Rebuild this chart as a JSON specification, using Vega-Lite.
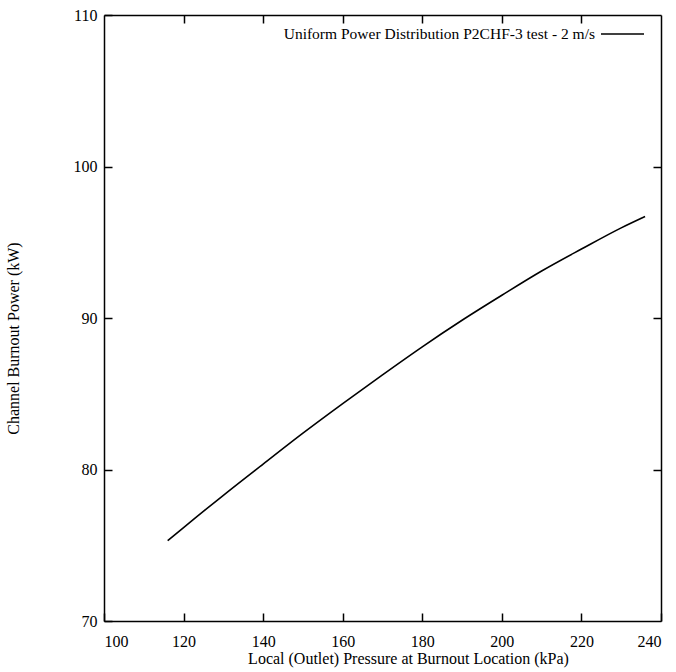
{
  "$schema": "https://vega.github.io/schema/vega-lite/v6.json",
  "autosize": {"type": "none"},
  "padding": {"left": 104, "top": 15, "right": 15, "bottom": 51},
  "width": 557,
  "height": 606,
  "background": "white",
  "config": {
    "view": {"stroke": null},
    "font": "Liberation Serif",
    "axis": {
      "domainColor": "black",
      "domainWidth": 1.5,
      "tickColor": "black",
      "tickWidth": 1.5,
      "tickSize": -8,
      "grid": false,
      "labelColor": "black",
      "titleColor": "black",
      "labelFont": "Liberation Serif",
      "titleFont": "Liberation Serif",
      "labelFontSize": 16,
      "titleFontSize": 16,
      "titleFontWeight": "normal"
    }
  },
  "data": {
    "values": [
      {"p": 116, "w": 75.3, "s": "Uniform Power Distribution P2CHF-3 test - 2 m/s"},
      {"p": 120, "w": 76.17, "s": "Uniform Power Distribution P2CHF-3 test - 2 m/s"},
      {"p": 130, "w": 78.3, "s": "Uniform Power Distribution P2CHF-3 test - 2 m/s"},
      {"p": 140, "w": 80.36, "s": "Uniform Power Distribution P2CHF-3 test - 2 m/s"},
      {"p": 150, "w": 82.4, "s": "Uniform Power Distribution P2CHF-3 test - 2 m/s"},
      {"p": 160, "w": 84.35, "s": "Uniform Power Distribution P2CHF-3 test - 2 m/s"},
      {"p": 170, "w": 86.25, "s": "Uniform Power Distribution P2CHF-3 test - 2 m/s"},
      {"p": 180, "w": 88.1, "s": "Uniform Power Distribution P2CHF-3 test - 2 m/s"},
      {"p": 190, "w": 89.85, "s": "Uniform Power Distribution P2CHF-3 test - 2 m/s"},
      {"p": 200, "w": 91.5, "s": "Uniform Power Distribution P2CHF-3 test - 2 m/s"},
      {"p": 210, "w": 93.1, "s": "Uniform Power Distribution P2CHF-3 test - 2 m/s"},
      {"p": 220, "w": 94.55, "s": "Uniform Power Distribution P2CHF-3 test - 2 m/s"},
      {"p": 230, "w": 95.95, "s": "Uniform Power Distribution P2CHF-3 test - 2 m/s"},
      {"p": 236, "w": 96.7, "s": "Uniform Power Distribution P2CHF-3 test - 2 m/s"}
    ]
  },
  "layer": [
    {
      "mark": {"type": "line", "strokeWidth": 1.6, "interpolate": "monotone"},
      "encoding": {
        "x": {
          "field": "p", "type": "quantitative",
          "scale": {"domain": [100, 240], "nice": false, "zero": false},
          "axis": {"values": [100, 120, 140, 160, 180, 200, 220, 240], "title": "Local (Outlet) Pressure at Burnout Location (kPa)", "labelPadding": 20, "titlePadding": 1, "titleX": 304}
        },
        "y": {
          "field": "w", "type": "quantitative",
          "scale": {"domain": [70, 110], "nice": false, "zero": false},
          "axis": {"values": [70, 80, 90, 100, 110], "title": "Channel Burnout Power (kW)", "labelPadding": 15, "titleY": 323, "titleX": -83}
        },
        "color": {
          "field": "s", "type": "nominal",
          "scale": {"range": ["black"]},
          "legend": {
            "title": null,
            "orient": "none",
            "legendX": 496,
            "legendY": -3.5,
            "padding": 0,
            "symbolType": "stroke",
            "symbolSize": 1850,
            "symbolStrokeWidth": 1.3,
            "labelAlign": "right",
            "labelOffset": -50,
            "labelFont": "Liberation Serif",
            "labelFontSize": 15.5,
            "labelColor": "black",
            "labelLimit": 500
          }
        }
      }
    },
    {
      "mark": {"type": "line", "opacity": 0},
      "encoding": {
        "x": {
          "field": "p", "type": "quantitative",
          "axis": {"orient": "top", "values": [120, 140, 160, 180, 200, 220], "labels": false, "title": null}
        },
        "y": {
          "field": "w", "type": "quantitative",
          "axis": {"orient": "right", "values": [80, 90, 100], "labels": false, "title": null}
        }
      }
    }
  ],
  "resolve": {"axis": {"x": "independent", "y": "independent"}}
}
